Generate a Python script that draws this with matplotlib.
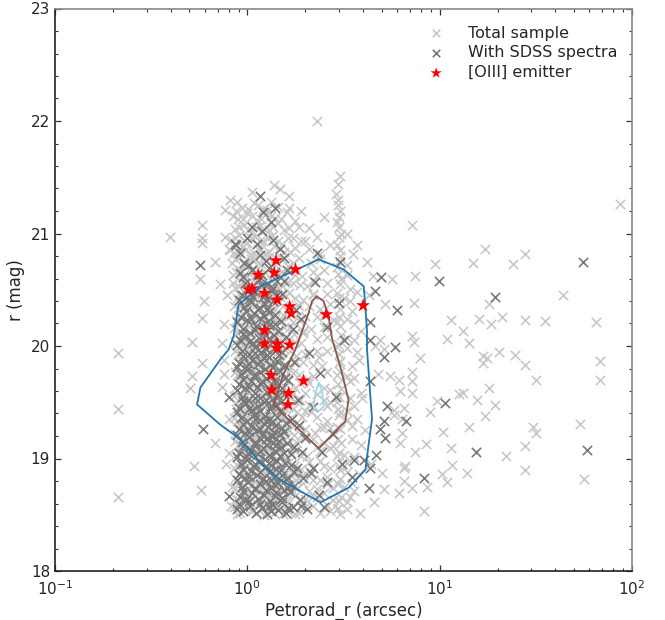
import matplotlib
matplotlib.use("Agg")
import matplotlib.pyplot as plt
import matplotlib.ticker as mticker

# ---------------- data (Petrorad_r [arcsec], r [mag]) ----------------
total_core = [
 (0.88,18.51),(0.96,18.56),(1.04,18.53),(1.13,18.59),(1.22,18.50),(1.30,18.55),(1.41,18.58),(1.53,18.51),(1.67,18.55),(1.85,18.52),(2.2,18.58),(2.7,18.53),(2.95,18.56),(3.05,18.51),
 (0.87,18.64),(0.95,18.69),(1.02,18.61),(1.10,18.67),(1.18,18.62),(1.27,18.70),(1.36,18.63),(1.47,18.68),(1.60,18.62),(1.78,18.67),(2.0,18.64),(2.5,18.69),(3.0,18.62),(3.4,18.66),
 (0.89,18.77),(0.97,18.71),(1.05,18.76),(1.14,18.72),(1.23,18.78),(1.32,18.71),(1.42,18.75),(1.56,18.79),(1.70,18.72),(1.95,18.78),(2.3,18.73),(2.97,18.77),(3.6,18.71),
 (0.86,18.83),(0.94,18.88),(1.02,18.81),(1.09,18.86),(1.17,18.80),(1.26,18.85),(1.35,18.89),(1.46,18.82),(1.58,18.87),(1.80,18.81),(2.1,18.89),(2.6,18.84),(3.02,18.82),(3.8,18.86),
 (0.88,18.94),(0.96,18.91),(1.03,18.97),(1.11,18.92),(1.19,18.96),(1.28,18.90),(1.37,18.98),(1.49,18.93),(1.64,18.97),(1.90,18.91),(2.4,18.98),(2.98,18.93),(3.3,18.96),
 (0.87,19.03),(0.95,19.08),(1.01,19.01),(1.09,19.06),(1.17,19.02),(1.26,19.09),(1.35,19.04),(1.45,19.08),(1.58,19.00),(1.76,19.07),(2.05,19.02),(2.7,19.09),(3.01,19.05),(3.6,19.01),
 (0.89,19.12),(0.97,19.17),(1.04,19.11),(1.12,19.19),(1.21,19.13),(1.30,19.18),(1.40,19.11),(1.53,19.16),(1.72,19.12),(1.98,19.19),(2.5,19.14),(2.96,19.17),(3.9,19.12),
 (0.86,19.22),(0.94,19.27),(1.02,19.21),(1.10,19.26),(1.18,19.29),(1.27,19.23),(1.36,19.28),(1.48,19.21),(1.64,19.25),(1.85,19.29),(2.25,19.23),(3.03,19.26),(3.5,19.29),
 (0.88,19.33),(0.96,19.38),(1.03,19.31),(1.11,19.36),(1.20,19.32),(1.29,19.39),(1.39,19.34),(1.51,19.38),(1.68,19.31),(1.92,19.37),(2.6,19.33),(2.99,19.39),(3.7,19.35),
 (0.87,19.44),(0.95,19.41),(1.02,19.47),(1.10,19.42),(1.18,19.49),(1.27,19.43),(1.37,19.48),(1.48,19.40),(1.62,19.46),(1.82,19.41),(2.1,19.48),(2.97,19.44),(3.3,19.42),
 (0.89,19.52),(0.97,19.57),(1.05,19.51),(1.13,19.56),(1.22,19.53),(1.32,19.59),(1.43,19.52),(1.58,19.57),(1.76,19.51),(2.0,19.58),(2.5,19.52),(3.01,19.55),(3.9,19.58),
 (0.86,19.63),(0.94,19.68),(1.01,19.61),(1.09,19.66),(1.17,19.62),(1.26,19.69),(1.36,19.64),(1.47,19.68),(1.66,19.62),(1.88,19.67),(2.7,19.61),(2.96,19.66),(3.4,19.69),
 (0.88,19.74),(0.96,19.71),(1.03,19.77),(1.11,19.72),(1.20,19.79),(1.30,19.73),(1.41,19.78),(1.55,19.71),(1.72,19.76),(2.2,19.73),(3.02,19.77),(3.6,19.72),
 (0.87,19.82),(0.95,19.87),(1.02,19.81),(1.10,19.86),(1.19,19.83),(1.28,19.89),(1.38,19.84),(1.50,19.88),(1.68,19.81),(1.95,19.86),(2.45,19.82),(2.98,19.85),(3.8,19.88),
 (0.89,19.93),(0.97,19.98),(1.04,19.91),(1.12,19.96),(1.21,19.92),(1.31,19.99),(1.42,19.94),(1.56,19.97),(1.80,19.91),(2.3,19.96),(3.0,19.93),(3.3,19.98),
 (0.86,20.04),(0.94,20.01),(1.01,20.07),(1.09,20.02),(1.18,20.09),(1.27,20.03),(1.37,20.08),(1.49,20.01),(1.64,20.06),(1.90,20.03),(2.6,20.08),(2.97,20.02),(3.6,20.05),
 (0.88,20.12),(0.96,20.17),(1.03,20.11),(1.11,20.16),(1.20,20.13),(1.30,20.19),(1.41,20.12),(1.55,20.17),(1.75,20.11),(2.15,20.15),(3.03,20.18),(3.9,20.13),
 (0.87,20.23),(0.95,20.28),(1.02,20.21),(1.10,20.26),(1.19,20.22),(1.29,20.29),(1.40,20.24),(1.53,20.28),(1.72,20.21),(2.0,20.27),(2.8,20.23),(2.99,20.26),
 (0.89,20.34),(0.97,20.31),(1.05,20.37),(1.14,20.32),(1.24,20.38),(1.34,20.33),(1.46,20.39),(1.62,20.31),(1.85,20.36),(2.4,20.33),(3.01,20.38),(3.5,20.31),
 (0.88,20.43),(0.96,20.48),(1.04,20.41),(1.13,20.46),(1.23,20.42),(1.34,20.49),(1.47,20.44),(1.65,20.47),(1.95,20.41),(2.6,20.46),(2.98,20.43),(3.7,20.48),
 (0.86,20.52),(0.94,20.57),(1.02,20.51),(1.11,20.56),(1.21,20.53),(1.32,20.59),(1.45,20.52),(1.62,20.57),(1.88,20.54),(2.2,20.58),(3.02,20.55),(3.4,20.51),
 (0.84,20.63),(0.92,20.68),(1.00,20.61),(1.09,20.66),(1.19,20.62),(1.30,20.69),(1.44,20.64),(1.63,20.67),(1.92,20.62),(2.5,20.68),(2.97,20.64),
 (0.83,20.74),(0.90,20.79),(0.99,20.72),(1.08,20.77),(1.18,20.73),(1.29,20.79),(1.43,20.75),(1.62,20.71),(1.85,20.78),(2.15,20.74),(3.0,20.76),(3.3,20.72),
 (0.85,20.83),(0.94,20.88),(1.03,20.81),(1.13,20.86),(1.24,20.82),(1.37,20.89),(1.55,20.84),(1.78,20.87),(2.4,20.82),(3.03,20.85),
 (0.82,20.94),(0.91,20.99),(1.00,20.92),(1.10,20.97),(1.21,20.93),(1.35,20.98),(1.52,20.91),(1.72,20.96),(2.0,20.93),(2.98,20.97),
 (0.86,21.04),(0.96,21.08),(1.06,21.02),(1.17,21.07),(1.29,21.03),(1.44,21.09),(1.65,21.05),(3.01,21.06),
 (0.89,21.13),(1.00,21.18),(1.12,21.12),(1.25,21.17),(1.40,21.14),(1.60,21.19),(3.0,21.15),
 (0.94,21.23),(1.08,21.27),(1.20,21.22),(1.33,21.28),(2.97,21.25),
]
total_core2 = [
 (0.85,18.57),(0.92,18.52),(1.00,18.60),(1.07,18.54),(1.26,18.61),(1.38,18.52),(1.47,18.56),(1.60,18.59),(1.76,18.51),(2.0,18.57),(2.4,18.52),(3.3,18.55),
 (0.91,18.63),(0.98,18.67),(1.06,18.64),(1.23,18.69),(1.32,18.66),(1.52,18.63),(1.70,18.69),(1.88,18.64),(2.2,18.67),(2.8,18.63),
 (0.86,18.74),(0.93,18.79),(1.00,18.72),(1.18,18.77),(1.28,18.74),(1.38,18.80),(1.50,18.72),(1.64,18.77),(1.82,18.74),(2.1,18.71),(2.6,18.77),
 (0.90,18.85),(0.98,18.88),(1.06,18.82),(1.21,18.88),(1.31,18.83),(1.41,18.87),(1.52,18.84),(1.70,18.89),(1.95,18.85),(2.4,18.81),(3.3,18.88),
 (0.85,18.92),(0.92,18.98),(1.00,18.94),(1.15,18.99),(1.24,18.92),(1.33,18.96),(1.43,18.91),(1.57,18.95),(1.75,18.93),(2.1,18.97),(2.7,18.92),
 (0.91,19.05),(0.98,19.09),(1.05,19.03),(1.13,19.08),(1.22,19.05),(1.31,19.01),(1.40,19.07),(1.51,19.03),(1.67,19.06),(1.90,19.02),(2.4,19.07),
 (0.86,19.16),(0.93,19.12),(1.00,19.18),(1.08,19.13),(1.16,19.17),(1.25,19.12),(1.35,19.16),(1.46,19.13),(1.61,19.19),(1.82,19.14),(2.2,19.17),(2.8,19.11),
 (0.90,19.25),(0.98,19.21),(1.06,19.27),(1.14,19.22),(1.22,19.26),(1.31,19.24),(1.42,19.27),(1.56,19.25),(1.74,19.21),(2.0,19.26),(2.5,19.28),
 (0.85,19.36),(0.92,19.32),(1.00,19.37),(1.07,19.33),(1.15,19.36),(1.24,19.35),(1.34,19.31),(1.45,19.37),(1.60,19.34),(1.80,19.32),(2.3,19.37),(3.3,19.34),
 (0.91,19.47),(0.99,19.43),(1.06,19.46),(1.14,19.42),(1.22,19.47),(1.32,19.45),(1.42,19.42),(1.55,19.46),(1.72,19.44),(2.0,19.42),(2.6,19.47),
 (0.85,19.56),(0.93,19.53),(1.01,19.58),(1.09,19.52),(1.17,19.57),(1.27,19.55),(1.38,19.54),(1.50,19.59),(1.66,19.55),(1.88,19.52),(2.3,19.57),(3.4,19.54),
 (0.90,19.66),(0.98,19.62),(1.05,19.67),(1.13,19.63),(1.21,19.67),(1.31,19.65),(1.42,19.67),(1.56,19.64),(1.76,19.63),(2.1,19.67),(2.5,19.63),
 (0.86,19.77),(0.92,19.73),(1.00,19.75),(1.07,19.78),(1.15,19.74),(1.25,19.77),(1.35,19.75),(1.47,19.73),(1.62,19.76),(1.85,19.74),(2.6,19.77),(3.3,19.73),
 (0.91,19.85),(0.99,19.86),(1.06,19.83),(1.14,19.87),(1.23,19.86),(1.33,19.82),(1.45,19.86),(1.59,19.83),(1.80,19.86),(2.2,19.83),
 (0.86,19.96),(0.93,19.93),(1.00,19.97),(1.08,19.93),(1.16,19.95),(1.26,19.97),(1.36,19.94),(1.49,19.93),(1.67,19.96),(2.0,19.93),(2.6,19.96),
 (0.90,20.06),(0.98,20.03),(1.05,20.05),(1.13,20.03),(1.22,20.07),(1.32,20.05),(1.43,20.03),(1.57,20.06),(1.78,20.04),(2.3,20.06),(3.3,20.07),
 (0.85,20.16),(0.92,20.13),(0.99,20.15),(1.07,20.13),(1.15,20.17),(1.25,20.15),(1.35,20.17),(1.48,20.13),(1.65,20.16),(1.95,20.13),(2.5,20.17),
 (0.90,20.26),(0.98,20.23),(1.06,20.25),(1.14,20.23),(1.24,20.27),(1.34,20.25),(1.46,20.23),(1.62,20.26),(1.85,20.23),(2.3,20.26),(3.3,20.24),
 (0.85,20.36),(0.93,20.37),(1.01,20.33),(1.09,20.36),(1.19,20.37),(1.29,20.34),(1.40,20.33),(1.54,20.36),(1.72,20.33),(2.1,20.36),(2.7,20.37),
 (0.91,20.46),(0.99,20.43),(1.08,20.46),(1.18,20.43),(1.28,20.46),(1.40,20.43),(1.55,20.46),(1.78,20.43),(2.2,20.46),(3.2,20.43),
 (0.84,20.56),(0.90,20.53),(0.98,20.56),(1.06,20.53),(1.16,20.56),(1.26,20.53),(1.38,20.56),(1.52,20.53),(1.72,20.56),(2.05,20.53),(2.6,20.56),
 (0.87,20.66),(0.96,20.63),(1.04,20.66),(1.14,20.63),(1.24,20.66),(1.36,20.63),(1.52,20.66),(1.78,20.63),(2.2,20.66),(3.3,20.63),
 (0.86,20.77),(0.95,20.74),(1.04,20.77),(1.13,20.74),(1.23,20.77),(1.36,20.74),(1.52,20.77),(1.72,20.74),(2.4,20.77),
 (0.80,20.86),(0.89,20.84),(0.98,20.86),(1.08,20.83),(1.18,20.86),(1.30,20.84),(1.46,20.87),(1.66,20.84),(2.1,20.86),
 (0.86,20.96),(0.96,20.93),(1.05,20.96),(1.16,20.93),(1.28,20.96),(1.44,20.93),(1.62,20.96),(1.9,20.93),(2.3,20.97),
 (0.91,21.06),(1.01,21.03),(1.11,21.06),(1.23,21.03),(1.36,21.06),(1.55,21.03),(1.85,21.06),
 (0.84,21.16),(0.95,21.13),(1.06,21.16),(1.18,21.13),(1.32,21.16),(1.50,21.13),
 (1.01,21.22),(1.14,21.25),(1.27,21.21),(1.45,21.24),(1.65,21.23),(0.87,21.20),
]
total_mid = [
 (1.62,18.53),(1.95,18.61),(2.3,18.66),(2.6,18.59),(3.3,18.61),(3.5,18.78),(2.8,18.74),(2.2,18.81),
 (1.75,18.86),(2.5,18.93),(3.2,19.03),(2.3,19.10),(1.9,19.21),(2.7,19.27),(3.5,19.17),(2.15,19.41),
 (2.4,19.28),(1.72,19.58),(2.7,19.50),(3.6,19.47),(2.05,19.71),(2.35,19.90),(3.5,19.82),(1.95,20.12),
 (2.5,20.28),(3.4,20.40),(2.3,20.62),(2.7,20.90),(2.1,21.05),(3.3,21.00),(2.5,21.15),(1.9,21.20),
 (2.2,20.45),(3.7,19.95),(3.2,18.75),
]
total_column = [
 (2.94,18.55),(3.06,18.66),(2.93,18.78),(3.05,18.90),(2.94,19.02),(3.06,19.14),(2.93,19.28),(3.05,19.41),
 (2.94,19.50),(3.06,19.62),(2.93,19.74),(3.05,19.87),(2.94,19.99),(3.06,20.10),(2.93,20.21),(3.05,20.33),
 (2.94,20.47),(3.06,20.60),(2.93,20.70),(3.05,20.80),(2.94,20.90),(3.06,21.00),(2.93,21.10),(3.05,21.20),
 (2.96,21.30),(3.05,21.51),(2.90,21.35),(2.95,21.44),
]
total_outer = [
 (0.816,21.30),(0.884,21.28),(1.06,21.37),(1.37,21.43),(1.48,21.40),(1.64,21.33),(1.78,21.11),(0.768,21.21),
 (0.768,20.97),(0.581,21.08),(0.581,20.96),(0.581,20.92),(0.682,20.75),(0.57,20.60),(0.398,20.97),(2.31,22.00),
 (0.739,20.03),(0.682,19.14),(0.778,18.95),(0.593,20.40),(0.753,20.20),(0.753,19.88),(0.739,19.64),(0.515,20.04),
 (0.581,20.25),(0.581,19.85),(0.515,19.73),(0.505,19.63),(0.530,18.93),(0.577,18.72),(0.213,19.94),(0.213,19.44),
 (0.213,18.66),(0.80,19.35),(0.82,18.58),(0.78,20.45),(0.72,20.55),(0.80,19.05),(0.83,18.75),(0.76,19.75),(0.81,20.85),
 (7.18,21.08),(17.3,20.86),(27.9,20.82),(9.42,20.73),(14.9,20.74),(24.0,20.73),(86.3,21.26),(7.41,20.62),
 (5.65,20.60),(43.8,20.45),(5.22,20.37),(7.33,20.38),(18.0,20.37),(11.4,20.23),(16.0,20.24),(18.4,20.20),
 (21.1,20.26),(27.9,20.23),(35.5,20.22),(65.0,20.21),(13.3,20.13),(7.18,20.09),(10.9,20.06),(14.2,20.03),
 (7.33,20.04),(5.11,19.97),(4.63,20.00),(20.3,19.95),(24.5,19.92),(16.9,19.91),(17.6,19.89),(16.9,19.85),
 (7.94,19.89),(27.9,19.83),(68.5,19.87),(68.5,19.70),(31.5,19.70),(7.18,19.77),(7.18,19.69),(6.12,19.70),
 (5.54,19.73),(18.0,19.63),(13.3,19.58),(12.6,19.57),(15.6,19.52),(6.25,19.60),(7.18,19.58),(9.69,19.51),
 (19.3,19.48),(3.95,19.54),(6.50,19.45),(8.95,19.41),(17.3,19.38),(5.77,19.39),(6.37,19.35),(14.2,19.28),
 (30.6,19.28),(31.5,19.23),(53.9,19.31),(10.4,19.24),(6.37,19.23),(6.25,19.14),(8.53,19.13),(11.4,19.09),
 (27.9,19.11),(7.47,19.06),(22.2,19.02),(27.9,18.90),(6.63,18.93),(6.50,18.92),(11.6,18.94),(13.9,18.87),
 (10.3,18.86),(10.9,18.79),(6.50,18.80),(7.18,18.74),(8.60,18.75),(5.11,18.73),(6.12,18.69),(56.1,18.82),
 (8.26,18.53),(4.54,18.61),(3.87,18.52),(5.02,18.87),(5.77,19.43),(4.2,20.75),(4.5,20.62),(3.7,20.9),
 (4.1,19.25),(4.4,18.95),(3.6,20.2),(4.8,19.75),(3.55,20.82),(4.3,20.45),(4.9,20.05),
]
sdss_core = [
 (0.95,18.53),(1.03,18.58),(1.11,18.52),(1.19,18.56),(1.27,18.51),(1.35,18.59),(1.44,18.54),(1.58,18.52),(1.72,18.57),(2.05,18.55),(0.91,18.60),
 (0.92,18.66),(0.99,18.63),(1.06,18.69),(1.14,18.64),(1.22,18.68),(1.31,18.62),(1.40,18.67),(1.52,18.65),(1.66,18.70),(1.88,18.63),(2.35,18.68),
 (0.94,18.75),(1.01,18.79),(1.09,18.73),(1.16,18.77),(1.25,18.80),(1.33,18.74),(1.45,18.78),(1.55,18.72),(1.75,18.76),(2.6,18.79),
 (0.90,18.86),(0.97,18.83),(1.04,18.89),(1.12,18.85),(1.20,18.82),(1.29,18.88),(1.38,18.84),(1.50,18.90),(1.62,18.83),(2.15,18.87),
 (0.93,18.95),(1.00,18.99),(1.07,18.93),(1.15,18.97),(1.23,19.00),(1.32,18.94),(1.42,18.98),(1.57,18.96),(1.82,18.92),(3.1,18.95),
 (0.91,19.05),(0.98,19.02),(1.05,19.08),(1.13,19.04),(1.21,19.09),(1.30,19.03),(1.39,19.07),(1.49,19.10),(1.68,19.04),(2.45,19.06),
 (0.94,19.15),(1.02,19.19),(1.10,19.13),(1.18,19.17),(1.27,19.12),(1.36,19.20),(1.46,19.16),(1.60,19.14),(2.0,19.18),
 (0.90,19.26),(0.97,19.23),(1.05,19.29),(1.12,19.25),(1.20,19.22),(1.28,19.28),(1.37,19.24),(1.52,19.27),(1.85,19.30),(2.8,19.22),
 (0.93,19.36),(1.00,19.33),(1.08,19.39),(1.16,19.34),(1.24,19.38),(1.33,19.32),(1.43,19.37),(1.70,19.35),
 (0.91,19.45),(0.98,19.49),(1.06,19.43),(1.14,19.47),(1.22,19.50),(1.31,19.44),(1.41,19.48),(2.2,19.46),
 (0.94,19.55),(1.01,19.52),(1.09,19.58),(1.17,19.54),(1.26,19.59),(1.35,19.53),(1.55,19.57),(2.9,19.55),
 (0.90,19.66),(0.97,19.63),(1.04,19.69),(1.12,19.64),(1.20,19.68),(1.29,19.62),(1.40,19.67),(1.62,19.70),
 (0.93,19.75),(1.00,19.79),(1.08,19.73),(1.16,19.77),(1.24,19.80),(1.33,19.74),(1.47,19.78),(2.4,19.76),
 (0.91,19.85),(0.98,19.82),(1.06,19.88),(1.14,19.84),(1.22,19.89),(1.31,19.83),(1.43,19.87),(1.75,19.86),
 (0.94,19.96),(1.02,19.93),(1.10,19.99),(1.18,19.95),(1.27,19.92),(1.38,19.98),(2.1,19.94),
 (0.92,20.05),(0.99,20.09),(1.07,20.03),(1.15,20.07),(1.24,20.10),(1.35,20.04),(1.58,20.08),(3.2,20.05),
 (0.95,20.15),(1.03,20.12),(1.11,20.18),(1.20,20.14),(1.30,20.19),(1.45,20.13),(2.6,20.17),
 (0.93,20.26),(1.00,20.23),(1.08,20.29),(1.17,20.25),(1.28,20.22),(1.40,20.28),(1.9,20.24),
 (0.96,20.35),(1.04,20.39),(1.13,20.33),(1.23,20.37),(1.36,20.40),(1.65,20.34),(3.0,20.38),
 (0.94,20.45),(1.02,20.42),(1.10,20.48),(1.20,20.44),(1.32,20.49),(1.52,20.46),
 (0.97,20.56),(1.06,20.53),(1.15,20.59),(1.26,20.55),(1.42,20.58),(2.25,20.57),
 (0.92,20.65),(1.06,20.68),(1.40,20.66),(1.61,20.68),(1.19,20.63),
 (0.957,20.74),(1.17,20.81),(0.92,20.83),(1.12,20.91),(1.48,20.86),(2.30,20.83),(0.866,20.91),(3.04,20.75),
 (1.06,21.06),(1.19,21.02),(1.32,21.10),(1.21,21.19),(1.40,21.23),(1.16,21.33),(0.877,20.90),
]
sdss_core2 = [
 (0.885,18.55),(1.025,18.62),(1.165,18.60),(1.325,18.53),(1.52,18.61),(1.9,18.58),
 (0.955,18.71),(1.095,18.74),(1.245,18.72),(1.415,18.70),(1.62,18.74),
 (0.885,18.81),(1.025,18.84),(1.165,18.88),(1.325,18.81),(1.52,18.85),(1.95,18.83),
 (0.955,18.91),(1.095,18.95),(1.245,18.93),(1.415,18.91),(1.68,18.94),
 (0.885,19.01),(1.025,19.04),(1.165,19.07),(1.325,19.01),(1.55,19.05),
 (0.955,19.11),(1.095,19.15),(1.245,19.17),(1.415,19.12),(1.75,19.10),
 (0.885,19.21),(1.025,19.24),(1.165,19.26),(1.325,19.20),(1.48,19.22),
 (0.955,19.31),(1.095,19.35),(1.245,19.33),(1.415,19.30),(1.58,19.32),
 (0.885,19.41),(1.025,19.44),(1.165,19.42),(1.325,19.47),(1.50,19.43),
 (0.955,19.51),(1.095,19.54),(1.245,19.52),(1.44,19.56),
 (0.885,19.61),(1.025,19.64),(1.165,19.67),(1.33,19.61),(1.52,19.63),
 (0.955,19.71),(1.095,19.75),(1.245,19.72),(1.39,19.70),
 (0.885,19.81),(1.025,19.84),(1.165,19.87),(1.36,19.81),(1.55,19.83),
 (0.955,19.91),(1.095,19.94),(1.245,19.97),(1.46,19.92),
 (0.885,20.01),(1.025,20.04),(1.165,20.02),(1.30,20.07),(1.48,20.03),
 (0.955,20.11),(1.095,20.14),(1.245,20.16),(1.38,20.10),
 (0.885,20.21),(1.045,20.24),(1.22,20.27),(1.50,20.22),
 (0.985,20.31),(1.16,20.34),(1.30,20.30),(1.80,20.32),
 (0.905,20.41),(1.075,20.44),(1.26,20.42),(1.42,20.45),
 (1.00,20.51),(1.18,20.54),(1.36,20.52),
 (0.945,20.61),(1.12,20.64),(1.30,20.69),
 (1.02,20.72),(1.25,20.76),(1.55,20.78),
 (1.00,20.96),(1.36,20.94),
]
sdss_core3 = [
 (1.29,18.58),(1.47,18.63),(1.63,18.56),(1.38,18.77),(1.58,18.82),(1.74,18.88),(1.30,18.96),(1.48,19.02),
 (1.36,19.14),(1.56,19.24),(1.31,19.35),(1.50,19.50),(1.38,19.62),(1.57,19.72),(1.30,19.90),(1.52,19.95),
 (1.40,20.20),(1.27,20.33),(1.56,20.58),(1.84,19.52),(1.92,19.06),(2.2,18.92),(2.5,18.57),(1.72,20.15),
]
sdss_outer = [
 (0.570,20.72),(0.588,19.26),(0.80,19.55),(0.80,18.67),
 (55.4,20.75),(9.88,20.58),(4.96,20.61),(4.63,20.49),(19.5,20.44),(6.00,20.32),(4.36,20.21),(4.36,20.05),
 (5.83,19.99),(5.11,19.90),(4.36,19.69),(10.7,19.49),(5.33,19.47),(5.11,19.33),(6.71,19.33),(4.92,19.26),
 (5.22,19.18),(15.5,19.06),(58.4,19.08),(4.69,19.03),(3.57,18.99),(4.03,18.99),(4.36,18.92),(8.26,18.83),
 (3.50,18.84),(4.27,18.74),
]
oiii_x = [1.41,1.14,1.38,1.78,1.02,1.06,1.23,1.43,1.66,1.69,2.57,4.00,1.23,1.23,1.43,1.43,1.66,1.33,1.96,1.34,1.64,1.63]
oiii_y = [20.76,20.63,20.65,20.68,20.50,20.51,20.47,20.41,20.35,20.29,20.28,20.36,20.14,20.02,20.02,19.98,20.01,19.74,19.69,19.61,19.58,19.48]

# density contours (x, y)
contour_outer_x = [2.35,3.17,4.03,4.19,4.19,4.45,4.26,4.11,3.36,2.40,1.48,1.17,0.920,0.724,0.548,0.570,0.724,0.80,0.849,0.901,0.996,1.17,2.35]
contour_outer_y = [20.77,20.68,20.53,20.14,19.97,19.35,19.11,18.90,18.74,18.61,18.81,18.96,19.17,19.30,19.48,19.63,19.88,19.97,20.09,20.37,20.43,20.53,20.77]
contour_mid_x = [2.30,2.49,2.65,2.76,3.04,3.36,3.23,2.35,1.54,1.37,1.54,1.78,1.96,2.08,2.17,2.30]
contour_mid_y = [20.44,20.40,20.26,20.06,19.82,19.52,19.33,19.09,19.39,19.48,19.75,19.97,20.17,20.29,20.40,20.44]
contour_in_x = [2.35,2.26,2.21,2.35,2.49,2.45,2.35]
contour_in_y = [19.67,19.58,19.45,19.42,19.46,19.60,19.67]

labels = ["Total sample", "With SDSS spectra", "[OIII] emitter"]

# ---------------- plot ----------------
plt.rcParams['font.family'] = ['DejaVu Sans']
fig = plt.figure(figsize=(6.65, 6.2), dpi=100)
ax = fig.add_axes([55/665, 49/620, 577/665, 562.5/620])

tot = total_core + total_core2 + total_mid + total_column + total_outer
sd = sdss_core + sdss_core2 + sdss_core3 + sdss_outer
tx, ty = zip(*tot)
sx, sy = zip(*sd)

ax.scatter(tx, ty, marker='x', s=45, linewidths=1.2, color='#c8c8c8', label=labels[0], zorder=2)
ax.scatter(sx, sy, marker='x', s=45, linewidths=1.2, color='#787878', label=labels[1], zorder=3)
ax.scatter(oiii_x, oiii_y, marker='*', s=110, color='red', edgecolors='none', label=labels[2], zorder=5)

ax.plot(contour_outer_x, contour_outer_y, color='#1f77b4', lw=1.3, zorder=4)
ax.plot(contour_mid_x, contour_mid_y, color='#8c564b', lw=1.3, zorder=4)
ax.plot(contour_in_x, contour_in_y, color='#9edae5', lw=1.3, zorder=4)

ax.set_xscale('log')
ax.set_xlim(0.1, 100)
ax.set_ylim(18, 23)
ax.yaxis.set_major_locator(mticker.MultipleLocator(1))
ax.yaxis.set_minor_locator(mticker.MultipleLocator(0.2))

txtc = '#262626'
ax.set_xlabel('Petrorad_r (arcsec)', fontsize=12, color=txtc, labelpad=3)
ax.set_ylabel('r (mag)', fontsize=12, color=txtc)
ax.tick_params(which='both', direction='in', top=True, right=True, labelsize=11, labelcolor=txtc, color='#333333')
ax.tick_params(axis='x', which='major', pad=6)
ax.tick_params(which='major', length=4.5, width=0.9)
ax.tick_params(which='minor', length=2.5, width=0.8)
for s in ['left', 'bottom']:
    ax.spines[s].set_color('#222222')
for s in ['top', 'right']:
    ax.spines[s].set_color('#888888')
for s in ax.spines.values():
    s.set_linewidth(1.2)

leg = ax.legend(loc='upper right', frameon=False, fontsize=11.5, scatterpoints=1,
                markerscale=0.8, handletextpad=1.0, bbox_to_anchor=(1.0, 0.995), labelspacing=0.3)
for t in leg.get_texts():
    t.set_color(txtc)

fig.savefig('out.png', dpi=100)
